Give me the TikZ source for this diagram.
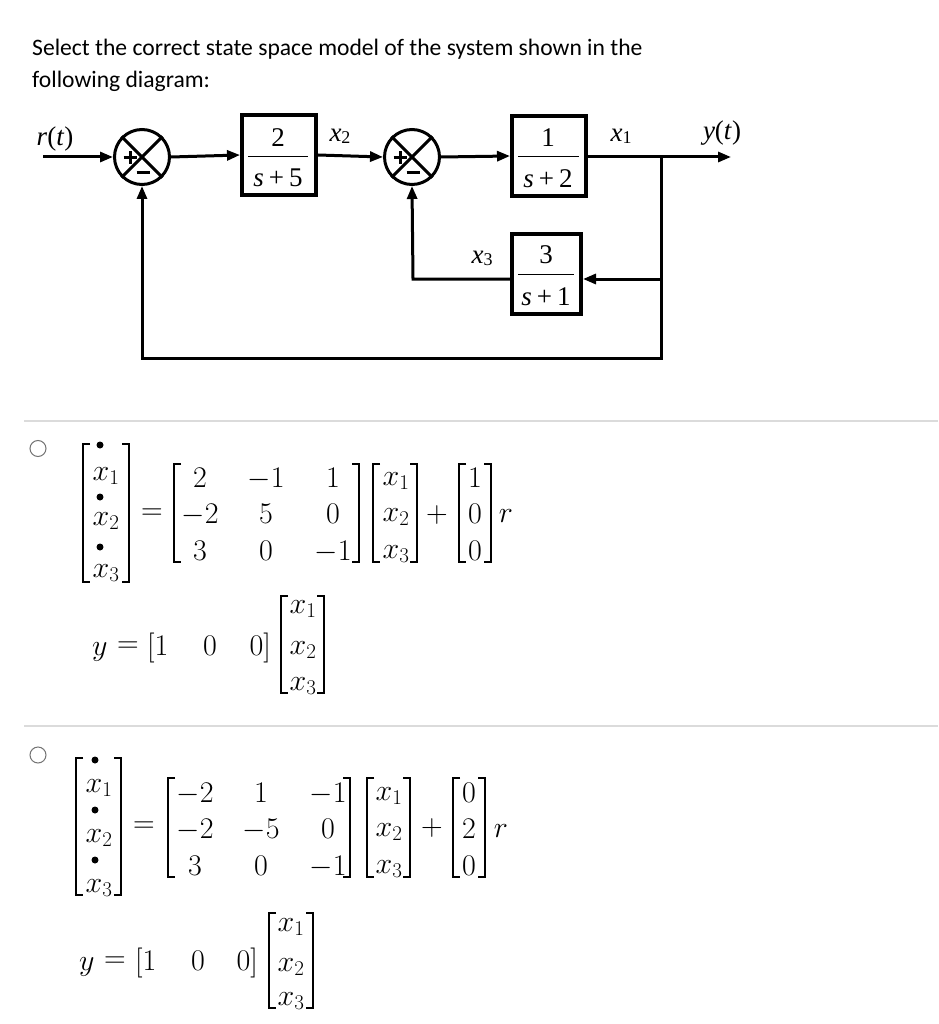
\RequirePackage{fix-cm}
\documentclass[tikz,border=0pt]{standalone}
\usepackage[no-math]{fontspec}
\setmainfont{Liberation Serif}
\newfontfamily\qfont{Carlito}
\usetikzlibrary{arrows.meta}
\newcommand\xsub[2]{\textit{#1}\raisebox{-2pt}{\fontsize{18}{18}\selectfont #2}}
\newcommand\mbrk[4]{%
  \draw[brk] ({#1+7},#3) -- (#1,#3) -- (#1,#4) -- ({#1+7},#4);
  \draw[brk] ({#2-7},#3) -- (#2,#3) -- (#2,#4) -- ({#2-7},#4);}
\tikzset{
  wire/.style={line width=3pt, black},
  arr/.style={wire, -{Triangle[length=13pt,width=10pt]}},
  blockbox/.style={draw, line width=4pt, inner sep=0pt, minimum height=80pt},
  sumnode/.style={circle, draw, line width=3pt, minimum size=55pt, inner sep=0pt},
  dlabel/.style={font=\fontsize{27}{27}\selectfont, inner sep=0pt, anchor=base},
  mth/.style={font=\fontsize{30}{36}\selectfont, inner sep=0pt, anchor=base},
  mthc/.style={font=\fontsize{30}{36}\selectfont, inner sep=0pt, anchor=center},
  brk/.style={line width=1.8pt},
  qtext/.style={font=\qfont\fontsize{23.6}{28}\selectfont, inner sep=0pt, anchor=base west},
  sep/.style={line width=1.5pt, black!14},
  radio/.style={line width=1pt, black!55},
  sgn/.style={line width=3pt},
}
\begin{document}
\begin{tikzpicture}[x=1pt,y=-1pt]
\useasboundingbox (0,0) rectangle (938,1024);
\fill[white] (0,0) rectangle (938,1024);

% question
\node[qtext] (q1) at (32,56) {Select the correct state space model of the system shown in the};
\node[qtext] (q2) at (32,88) {following diagram:};

% ---------- block diagram ----------
\node[sumnode] (s1) at (142,157) {};
\node[sumnode] (s2) at (412,157) {};
\foreach \s in {s1,s2}{
  \draw[line width=3pt] (\s.north west) -- (\s.south east);
  \draw[line width=3pt] (\s.north east) -- (\s.south west);
  \draw[sgn] (\s.center) ++(-18.5,1) -- ++(13,0);
  \draw[sgn] (\s.center) ++(-12,-5.5) -- ++(0,13);
  \draw[sgn] (\s.center) ++(-5.5,15.5) -- ++(13,0);
}
\node[blockbox, minimum width=74pt] (b1) at (279,155) {};
\node[blockbox, minimum width=74pt] (b2) at (549,156) {};
\node[blockbox, minimum width=69pt] (b3) at (546.5,274) {};

\node[dlabel] (n1) at (278,147) {2};
\draw[line width=1pt] (248,157) -- (308,157);
\node[dlabel] (d1) at (278,187) {\textit{s}\kern5pt+\kern5pt5};
\node[dlabel] (n2) at (548,147) {1};
\draw[line width=1pt] (518,157) -- (579,157);
\node[dlabel] (d2) at (548,188) {\textit{s}\kern5pt+\kern5pt2};
\node[dlabel] (n3) at (546,263) {3};
\draw[line width=1pt] (518,274) -- (574,274);
\node[dlabel] (d3) at (546,305) {\textit{s}\kern5pt+\kern5pt1};

\node[dlabel] (lr) at (55,146) {\textit{r}(\textit{t})};
\node[dlabel] (lx2) at (340,142) {\xsub{x}{2}};
\node[dlabel] (lx1) at (621,142) {\xsub{x}{1}};
\node[dlabel] (ly) at (722,140) {\textit{y}(\textit{t})};
\node[dlabel] (lx3) at (482,263) {\xsub{x}{3}};

\coordinate (in) at (43,157);
\coordinate (out) at (731,157);
\coordinate (br) at (661,157);
\coordinate (brd) at (661,358);
\coordinate (bl) at (142,358);
\coordinate (br3) at (661,279);
\coordinate (f2) at (413,279);

\draw[arr] (in) -- (s1.west);
\draw[arr] (s1.east) -- (b1.west);
\draw[arr] (b1.east) -- (s2.west);
\draw[arr] (s2.east) -- (b2.west);
\draw[arr] (b2.east |- br) -- (out);
\draw[arr, line join=miter] (br) -- (brd) -- (bl) -- (s1.south);
\draw[arr] (br3) -- (b3.east |- br3);
\draw[arr, line join=miter] (b3.west |- f2) -- (f2) -- (s2.south);

% separators
\draw[sep] (24,421) -- (938,421);
\draw[sep] (24,726) -- (938,726);

% ---------- option 1 ----------
\draw[radio] (38,448.5) circle[radius=8pt];
\mbrk{83}{129}{444}{582}
\fill (100,445) circle[radius=3.5pt];
\fill (100,497) circle[radius=3.5pt];
\fill (100,547) circle[radius=3.5pt];
\node[mth] (o1d1) at (106,480) {$x_1$};
\node[mth] (o1d2) at (106,525) {$x_2$};
\node[mth] (o1d3) at (106,577) {$x_3$};
\node[mthc] (o1eq) at (152,514) {$=$};
\mbrk{174}{359}{464}{562}
\node[mth] at (200,487) {$2$};
\node[mth] at (266,487) {$-1$};
\node[mth] at (333,487) {$1$};
\node[mth] at (200,523) {$-2$};
\node[mth] at (266,523) {$5$};
\node[mth] at (333,523) {$0$};
\node[mth] at (200,560) {$3$};
\node[mth] at (266,560) {$0$};
\node[mth] at (333,560) {$-1$};
\mbrk{373}{417}{464}{562}
\node[mth] at (396,485) {$x_1$};
\node[mth] at (396,521) {$x_2$};
\node[mth] at (396,558) {$x_3$};
\node[mthc] (o1p) at (437,515) {$+$};
\mbrk{459}{491}{464}{562}
\node[mth] at (475,487) {$1$};
\node[mth] at (475,523) {$0$};
\node[mth] at (475,560) {$0$};
\node[mth] (o1r) at (506,522) {$r$};

\node[mth, anchor=base west] (o1y) at (92,655) {$y$};
\node[mthc] (o1eq2) at (128,647) {$=$};
\node[mth, anchor=base west] at (147,655) {$[1$};
\node[mth] at (210,655) {$0$};
\node[mth, anchor=base east] at (271,655) {$0]$};
\mbrk{281}{324}{596}{693}
\node[mth] at (303,613) {$x_1$};
\node[mth] at (303,654) {$x_2$};
\node[mth] at (303,690) {$x_3$};

% ---------- option 2 ----------
\draw[radio] (38,755) circle[radius=8pt];
\mbrk{76}{121}{758}{895}
\fill (95,760) circle[radius=3.5pt];
\fill (95,810) circle[radius=3.5pt];
\fill (95,860) circle[radius=3.5pt];
\node[mth] (o2d1) at (99,792) {$x_1$};
\node[mth] (o2d2) at (99,842) {$x_2$};
\node[mth] (o2d3) at (99,892) {$x_3$};
\node[mthc] (o2eq) at (144,827) {$=$};
\mbrk{168}{350}{778}{877}
\node[mth] at (195,802) {$-2$};
\node[mth] at (261,802) {$1$};
\node[mth] at (328,802) {$-1$};
\node[mth] at (195,838) {$-2$};
\node[mth] at (261,838) {$-5$};
\node[mth] at (328,838) {$0$};
\node[mth] at (195,875) {$3$};
\node[mth] at (261,875) {$0$};
\node[mth] at (328,875) {$-1$};
\mbrk{367}{410}{778}{877}
\node[mth] at (389,800) {$x_1$};
\node[mth] at (389,836) {$x_2$};
\node[mth] at (389,873) {$x_3$};
\node[mthc] (o2p) at (432,828) {$+$};
\mbrk{453}{485}{778}{877}
\node[mth] at (469,802) {$0$};
\node[mth] at (469,838) {$2$};
\node[mth] at (469,875) {$0$};
\node[mth] (o2r) at (501,837) {$r$};

\node[mth, anchor=base west] (o2y) at (79,970) {$y$};
\node[mthc] (o2eq2) at (115,962) {$=$};
\node[mth, anchor=base west] at (135,970) {$[1$};
\node[mth] at (198,970) {$0$};
\node[mth, anchor=base east] at (258,970) {$0]$};
\mbrk{269}{313}{913}{1008}
\node[mth] at (291,931) {$x_1$};
\node[mth] at (291,971) {$x_2$};
\node[mth] at (291,1005) {$x_3$};
\end{tikzpicture}
\end{document}
